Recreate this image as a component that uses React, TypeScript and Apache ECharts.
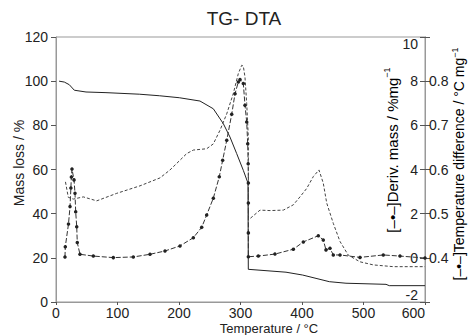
import React, { useEffect, useRef } from "react";
import * as echarts from "echarts";

const FONT = "'Liberation Sans', Arial, sans-serif";

const xTicks = { min: 0, max: 600, interval: 100 };

const tgData: [number, number][] = [
  [5, 100], [13.5, 99.6], [21.6, 98.4], [29.8, 95.9], [48.8, 95.1], [81.3, 94.8],
  [135.4, 94.1], [168, 93.4], [200.5, 92.5], [234.1, 91.0], [255.8, 87.5], [272, 80.8],
  [282.9, 74.7], [293.8, 67.2], [304.6, 59.6], [312.2, 53.8], [312.7, 14.8], [374, 13.5],
  [401.1, 12.2], [422.8, 10.7], [444.4, 9.2], [471.5, 8.5], [536.6, 8.0], [541.9, 7.4],
  [600, 7.4],
];

const dtgData: [number, number][] = [
  [14.6, 0.04], [15.1, 0.5], [20.3, 1.53], [22.8, 2.32], [24.2, 3.16], [25, 3.66],
  [26, 4.02], [29.3, 3.53], [30.9, 2.92], [32, 2.09], [33.7, 1.41], [34.6, 0.69],
  [39, 0.16], [60.7, 0.08], [93.2, 0.01], [125.7, 0.04], [152.8, 0.16], [177.2, 0.31],
  [201.6, 0.54], [223.3, 0.91], [236.9, 1.38], [245, 1.94], [255.8, 2.7], [265.5, 3.67],
  [271, 4.42], [277.6, 5.32], [285.7, 6.5], [291.1, 7.43], [296.4, 7.96], [299.2, 8.07],
  [304.6, 7.89], [307.3, 6.91], [310.1, 6.15], [311.7, 5.17], [312.5, 4.26], [312.8, 3.39],
  [312.8, 2.48], [312.8, 1.13], [312.8, 0.05], [329, 0.08], [356, 0.17], [385.9, 0.39],
  [402.1, 0.72], [426.5, 1.0], [434.6, 0.81], [439, 0.36], [445.5, 0.43], [450.9, 0.13],
  [461.8, 0.13], [494.3, 0.02], [532.2, 0.13], [559.3, 0.08], [600, -0.01],
];

const dtaData: [number, number][] = [
  [15.4, 0.572], [20, 0.537], [28.1, 0.533], [44.4, 0.538], [66.2, 0.529], [98.7, 0.546],
  [136.6, 0.563], [169.1, 0.581], [185.4, 0.599], [201.6, 0.621], [212.5, 0.636],
  [223.3, 0.644], [245, 0.647], [255.8, 0.658], [266.7, 0.689], [277.6, 0.726],
  [288.3, 0.772], [296.4, 0.817], [302, 0.836], [304.6, 0.834], [307.3, 0.809],
  [310.1, 0.749], [312.7, 0.674], [313, 0.486], [331.7, 0.508], [348, 0.507],
  [369.6, 0.508], [385.9, 0.52], [396.7, 0.538], [407.6, 0.557], [418.4, 0.584],
  [427.6, 0.599], [434.6, 0.569], [440.2, 0.524], [450.9, 0.478], [461.8, 0.437],
  [475.3, 0.406], [494.3, 0.391], [515.9, 0.384], [548.5, 0.38], [600, 0.38],
];

const massAxis = { min: 0, max: 120, interval: 20 };
const derivAxis = { min: -2, max: 10, interval: 2 };
const tempAxis = { min: 0.3, max: 0.9, interval: 0.1, shownMin: 0.4, shownMax: 0.8 };

const titleText = "TG- DTA";
const xName = "Temperature / °C";
const massName = "Mass loss / %";
const derivName = "[–•–]Deriv. mass / %mg";
const tempName = "[–•–]Temperature difference / °C mg";
const supText = "−1";

export default function App() {
  const ref = useRef<HTMLDivElement>(null);
  useEffect(() => {
    if (!ref.current) return;
    const chart = echarts.init(ref.current, null, { renderer: "svg" });
    const axisLineStyle = { color: "#999", width: 1 };
    const labelBase = { fontSize: 14, color: "#222", fontFamily: FONT };
    const richFor = (size: number) => ({
      n: { fontSize: size, fontFamily: FONT, color: "#222", lineHeight: size + 4 },
      s: { fontSize: 9, fontFamily: FONT, color: "#222", verticalAlign: "top" },
    });
    chart.setOption({
      animation: false,
      backgroundColor: "#fff",
      grid: { left: 56, right: 47, top: 37, bottom: 33, show: true, borderColor: "#999", borderWidth: 1 },
      xAxis: {
        type: "value",
        min: xTicks.min,
        max: xTicks.max,
        interval: xTicks.interval,
        axisLine: { show: true, lineStyle: axisLineStyle },
        axisTick: { show: true, length: 3, lineStyle: { color: "#555" } },
        axisLabel: { ...labelBase, margin: 4, alignMaxLabel: "right" },
        splitLine: { show: false },
      },
      yAxis: [
        {
          type: "value",
          position: "left",
          min: massAxis.min,
          max: massAxis.max,
          interval: massAxis.interval,
          axisLine: { show: true, lineStyle: axisLineStyle },
          axisTick: { show: true, length: 5, lineStyle: { color: "#555" } },
          axisLabel: { ...labelBase, margin: 8 },
          splitLine: { show: false },
        },
        {
          type: "value",
          position: "right",
          min: derivAxis.min,
          max: derivAxis.max,
          interval: derivAxis.interval,
          axisLine: { show: true, lineStyle: axisLineStyle },
          axisTick: { show: true, inside: true, length: 5, lineStyle: { color: "#555" } },
          axisLabel: {
            ...labelBase,
            inside: true,
            margin: 7,
            verticalAlignMaxLabel: "top",
            verticalAlignMinLabel: "bottom",
          },
          splitLine: { show: false },
        },
        {
          type: "value",
          position: "right",
          offset: 0,
          min: tempAxis.min,
          max: tempAxis.max,
          interval: tempAxis.interval,
          axisLine: { show: true, lineStyle: axisLineStyle },
          axisTick: { show: true, length: 5, lineStyle: { color: "#555" } },
          axisLabel: {
            ...labelBase,
            margin: 4,
            formatter: (v: number) => {
              const r = Math.round(v * 10) / 10;
              return r < tempAxis.shownMin - 0.05 || r > tempAxis.shownMax + 0.05 ? "" : r.toFixed(1);
            },
          },
          splitLine: { show: false },
        },
      ],
      series: [
        {
          name: "TG",
          type: "line",
          yAxisIndex: 0,
          data: tgData,
          symbol: "none",
          lineStyle: { color: "#222", width: 1 },
        },
        {
          name: "DTG",
          type: "line",
          yAxisIndex: 1,
          data: dtgData,
          symbol: "circle",
          symbolSize: 3.5,
          itemStyle: { color: "#222" },
          lineStyle: { color: "#333", width: 1, type: [5, 2] },
        },
        {
          name: "DTA",
          type: "line",
          yAxisIndex: 2,
          data: dtaData,
          symbol: "none",
          lineStyle: { color: "#444", width: 1, type: [3, 2] },
        },
      ],
      graphic: [
        {
          type: "text",
          x: 244,
          y: 9,
          style: { text: titleText, fontSize: 19, fontFamily: FONT, fill: "#222", textAlign: "center", textVerticalAlign: "top", align: "center", verticalAlign: "top" },
        },
        {
          type: "text",
          x: 269,
          y: 322,
          style: { text: xName, fontSize: 13, fontFamily: FONT, fill: "#222", textAlign: "center", textVerticalAlign: "top", align: "center", verticalAlign: "top" },
        },
        {
          type: "text",
          x: 19,
          y: 163,
          rotation: Math.PI / 2,
          style: { text: massName, fontSize: 14, fontFamily: FONT, fill: "#222", textAlign: "center", textVerticalAlign: "middle", align: "center", verticalAlign: "middle" },
        },
        {
          type: "text",
          x: 392,
          y: 150,
          rotation: Math.PI / 2,
          style: {
            text: `{n|${derivName}}{s|${supText}}`,
            rich: richFor(15),
            textAlign: "center",
            textVerticalAlign: "middle",
            align: "center",
            verticalAlign: "middle",
          },
        },
        {
          type: "text",
          x: 459,
          y: 164,
          rotation: Math.PI / 2,
          style: {
            text: `{n|${tempName}}{s|${supText}}`,
            rich: richFor(14),
            textAlign: "center",
            textVerticalAlign: "middle",
            align: "center",
            verticalAlign: "middle",
          },
        },
      ],
    });
    return () => chart.dispose();
  }, []);
  return <div ref={ref} style={{ position: "fixed", left: 0, top: 0, width: 472, height: 335 }} />;
}
